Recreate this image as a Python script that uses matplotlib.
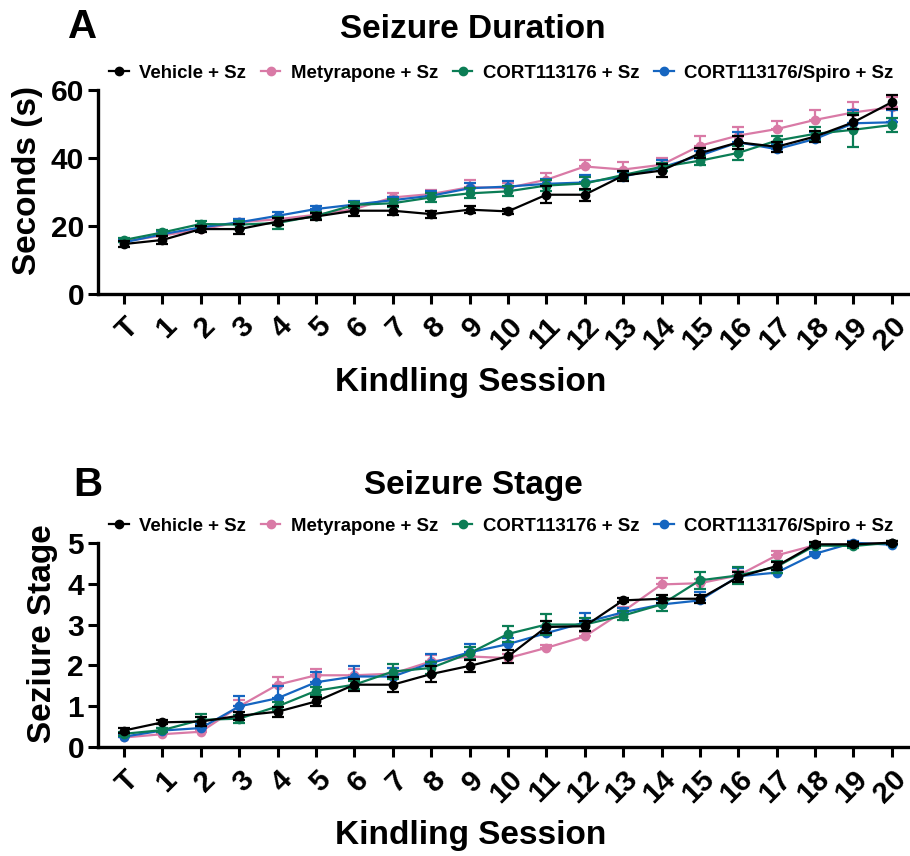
import numpy as np
import matplotlib
matplotlib.use('Agg')
import matplotlib.pyplot as plt

plt.rcParams['font.family'] = ['Liberation Sans', 'DejaVu Sans']
plt.rcParams['font.weight'] = 'bold'

# 橫軸: 點燃次數
SESSIONS = ['T'] + [str(i) for i in range(1, 21)]

GROUPS = ['Vehicle + Sz', 'Metyrapone + Sz', 'CORT113176 + Sz', 'CORT113176/Spiro + Sz']
COLORS = ['#000000', '#d97aa6', '#0b7d55', '#1565c0']

# A: 發作持續時間 (s)
dur_vehicle = [14.7, 15.9, 19.1, 19.1, 21.3, 22.8, 24.5, 24.5, 23.5, 24.8, 24.3,
               29.2, 29.2, 34.8, 36.3, 41.4, 44.6, 43.3, 46.3, 50.5, 56.4]
dur_metyr = [15.5, 17.2, 19.0, 21.1, 22.0, 23.3, 25.0, 28.4, 29.4, 31.4, 31.2,
             33.6, 37.5, 36.6, 38.0, 43.6, 46.6, 48.5, 51.2, 53.4, 54.9]
dur_cort = [15.9, 18.1, 20.6, 20.4, 20.9, 23.0, 26.2, 26.7, 28.4, 29.6, 30.2,
            31.9, 32.5, 35.0, 37.4, 39.2, 41.5, 45.1, 47.1, 48.3, 49.7]
dur_spiro = [15.2, 17.6, 19.6, 21.1, 23.0, 25.0, 26.3, 27.6, 28.9, 31.1, 31.6,
             32.4, 32.8, 34.5, 37.2, 40.7, 44.6, 42.6, 45.6, 50.2, 50.5]

dur_vehicle_err = [0.8, 1.2, 1.0, 1.5, 1.0, 1.0, 1.5, 1.3, 1.0, 1.0, 0.8,
                   2.5, 1.8, 1.5, 1.8, 1.5, 2.0, 1.5, 1.5, 2.0, 2.0]
dur_metyr_err = [0.6, 0.8, 0.8, 1.0, 1.0, 1.0, 1.0, 1.2, 1.3, 2.0, 1.5,
                 2.0, 2.0, 2.3, 2.0, 2.8, 2.5, 2.5, 3.0, 3.2, 3.0]
dur_cort_err = [0.6, 0.8, 0.8, 1.2, 1.8, 1.0, 1.0, 1.2, 1.3, 1.5, 1.5,
                1.5, 1.8, 1.2, 1.2, 1.3, 2.0, 1.5, 2.0, 5.0, 2.0]
dur_spiro_err = [0.6, 0.8, 0.8, 1.0, 1.0, 1.0, 1.0, 1.0, 1.3, 1.5, 1.5,
                 1.5, 2.3, 1.3, 2.3, 1.3, 3.0, 1.5, 2.0, 3.8, 3.5]

# B: 發作階段
stg_vehicle = [0.41, 0.61, 0.63, 0.77, 0.87, 1.12, 1.53, 1.53, 1.79, 1.99, 2.22,
               2.94, 2.96, 3.59, 3.63, 3.63, 4.16, 4.43, 4.96, 4.96, 5.0]
stg_metyr = [0.24, 0.32, 0.38, 1.0, 1.53, 1.76, 1.76, 1.80, 2.10, 2.22, 2.18,
             2.43, 2.71, 3.32, 3.98, 4.01, 4.20, 4.69, 4.94, 4.96, 5.0]
stg_cort = [0.33, 0.42, 0.67, 0.70, 1.0, 1.38, 1.53, 1.85, 1.94, 2.30, 2.77,
            3.0, 3.0, 3.22, 3.49, 4.08, 4.20, 4.41, 4.93, 4.92, 5.0]
stg_spiro = [0.26, 0.41, 0.47, 1.0, 1.20, 1.59, 1.73, 1.73, 2.06, 2.32, 2.52,
             2.79, 3.05, 3.30, 3.49, 3.59, 4.18, 4.27, 4.73, 5.0, 4.95]

stg_vehicle_err = [0.05, 0.05, 0.1, 0.1, 0.12, 0.12, 0.15, 0.18, 0.2, 0.15, 0.15,
                   0.15, 0.12, 0.05, 0.1, 0.1, 0.12, 0.1, 0.05, 0.05, 0.03]
stg_metyr_err = [0.03, 0.05, 0.05, 0.15, 0.18, 0.15, 0.15, 0.15, 0.15, 0.1, 0.1,
                 0.08, 0.1, 0.1, 0.15, 0.1, 0.1, 0.1, 0.05, 0.05, 0.03]
stg_cort_err = [0.05, 0.05, 0.15, 0.1, 0.1, 0.1, 0.1, 0.18, 0.15, 0.15, 0.2,
                0.25, 0.15, 0.1, 0.15, 0.2, 0.2, 0.15, 0.05, 0.05, 0.03]
stg_spiro_err = [0.05, 0.05, 0.1, 0.25, 0.3, 0.25, 0.25, 0.2, 0.22, 0.2, 0.15,
                 0.15, 0.22, 0.1, 0.1, 0.2, 0.2, 0.1, 0.05, 0.05, 0.03]


def draw_panel(ax, series, errs, ylim, yticks, ylabel, ylabel_x, leg_y):
    x = np.arange(len(SESSIONS))
    # 畫的順序: 粉紅, 藍, 綠, 黑 (黑色在最上層)
    order = [1, 3, 2, 0]
    lines = {}
    for k in order:
        y = np.array(series[k])
        e = np.array(errs[k])
        if k in (1, 3):
            yerr = [np.zeros_like(e), e]  # 只畫上方誤差
        else:
            yerr = e
        h = ax.errorbar(x, y, yerr=yerr, color=COLORS[k], marker='o', markersize=6,
                        linewidth=1.6, elinewidth=1.6, capsize=4, capthick=1.6,
                        clip_on=False, zorder=3 + order.index(k))
        lines[k] = h[0]

    ax.set_xlim(-0.68, 20.45)
    ax.set_ylim(*ylim)
    ax.set_yticks(yticks)
    ax.set_xticks(x)
    ax.set_xticklabels(SESSIONS, rotation=45, ha='right', va='top',
                       rotation_mode='anchor', fontsize=21.5, fontweight='bold')
    for lab in ax.get_yticklabels():
        lab.set_fontsize(21.5)
        lab.set_fontweight('bold')
    ax.tick_params(axis='both', width=2.2, length=7, pad=3)
    ax.tick_params(axis='x', pad=6)
    for s in ['top', 'right']:
        ax.spines[s].set_visible(False)
    for s in ['left', 'bottom']:
        ax.spines[s].set_linewidth(2.4)

    ax.set_ylabel(ylabel, fontsize=24, fontweight='bold', va='center')
    ax.yaxis.set_label_coords(ylabel_x, 0.555)
    ax.set_xlabel('Kindling Session', fontsize=24, fontweight='bold', va='center')
    ax.xaxis.set_label_coords(0.459, -0.433)

    ax.legend([lines[k] for k in range(4)], GROUPS, ncol=4, loc='center left',
              bbox_to_anchor=(0.014, leg_y), frameon=False,
              prop={'size': 13.4, 'weight': 'bold'},
              handlelength=1.05, handletextpad=0.55, columnspacing=0.8,
              borderaxespad=0, borderpad=0)
    return ax


fig = plt.figure(figsize=(9.10, 8.56), dpi=100)
ax1 = fig.add_axes([0.1077, 0.6565, 0.8913, 0.2384])
ax2 = fig.add_axes([0.1077, 0.1270, 0.8913, 0.2390])

draw_panel(ax1, [dur_vehicle, dur_metyr, dur_cort, dur_spiro],
           [dur_vehicle_err, dur_metyr_err, dur_cort_err, dur_spiro_err],
           (0, 60), [0, 20, 40, 60], 'Seconds (s)', -0.087, 1.083)
draw_panel(ax2, [stg_vehicle, stg_metyr, stg_cort, stg_spiro],
           [stg_vehicle_err, stg_metyr_err, stg_cort_err, stg_spiro_err],
           (0, 5), [0, 1, 2, 3, 4, 5], 'Seziure Stage', -0.069, 1.08)

fig.text(0.52, 0.965, 'Seizure Duration', fontsize=24, fontweight='bold', ha='center', va='center')
fig.text(0.52, 0.4334, 'Seizure Stage', fontsize=24, fontweight='bold', ha='center', va='center')
fig.text(0.0905, 0.969, 'A', fontsize=29, fontweight='bold', ha='center', va='center')
fig.text(0.0960, 0.4335, 'B', fontsize=29, fontweight='bold', ha='center', va='center')

plt.savefig('out.png', dpi=100)
